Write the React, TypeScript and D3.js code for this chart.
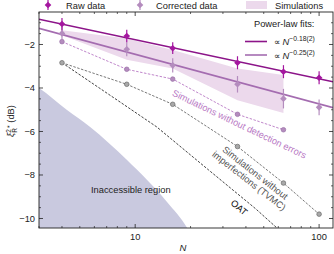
import React from "react";
import * as d3 from "d3";

const Ns = [4, 9, 16, 36, 64, 100];
const rawData = [-1.06, -1.61, -2.17, -2.84, -3.25, -3.53];
const rawErr = [0.28, 0.29, 0.27, 0.3, 0.3, 0.3];
const corrData = [-1.49, -2.22, -2.96, -3.83, -4.49, -4.89];
const corrErr = [0.3, 0.32, 0.33, 0.38, 0.45, 0.36];
const bandN = [4, 9, 16, 36, 64];
const bandUpper = [-1.35, -1.72, -2.25, -3.1, -3.4];
const bandLower = [-1.58, -2.7, -3.1, -4.56, -5.15];
const simNoDetN = [4, 9, 16, 36, 64];
const simNoDet = [-1.87, -3.14, -3.59, -5.21, -5.92];
const tvmcN = [4, 9, 16, 36, 64, 100];
const tvmc = [-2.84, -3.83, -4.75, -6.69, -8.37, -9.8];
const oatN = [4, 8, 13.1, 25, 45, 62];
const oat = [-2.84, -4.56, -5.79, -7.76, -9.54, -10.6];
const inaccN = [2.5, 3.0, 4.26, 5.69, 9, 14.9, 19.2, 20];
const inacc = [-3.6, -4.0, -5.01, -5.79, -7.3, -9.24, -10.44, -10.7];
const fitRaw = { c: 0.02, s: -1.8 };
const fitCorr = { c: -0.17, s: -2.28 };
const xMajor = [10, 100];
const xMinor = [3, 4, 5, 6, 7, 8, 9, 20, 30, 40, 50, 60, 70, 80, 90];
const yMajor = [-2, -4, -6, -8, -10];

const W = 334, H = 254;
const L = 39, R = 333, T = 12, B = 228;
const font = "Liberation Sans, Arial, sans-serif";

export default function App() {
  const x = d3.scaleLog().domain([3, 119]).range([L, R]);
  const y = d3.scaleLinear().domain([-10.437, -0.506]).range([B, T]);
  const yMinor = d3.range(-10, -0.5, 0.5).filter((v) => Math.abs(v % 2) > 0.01);

  const line = d3.line<[number, number]>().x((d) => x(d[0])).y((d) => y(d[1]));

  const band = d3
    .area<number>()
    .x((_, i) => x(bandN[i]))
    .y0((_, i) => y(bandLower[i]))
    .y1((_, i) => y(bandUpper[i]));

  const inaccArea = d3
    .area<number>()
    .x((_, i) => x(inaccN[i]))
    .y0(B + 20)
    .y1((d) => y(d))
    .curve(d3.curveMonotoneX);

  const fitPts = (f: { c: number; s: number }) =>
    [3, 119].map((n) => [n, f.c + f.s * Math.log10(n)] as [number, number]);

  const diamond = (cx: number, cy: number, r: number) =>
    `M${cx},${cy - r}L${cx + r},${cy}L${cx},${cy + r}L${cx - r},${cy}Z`;

  const rawCol = "#a4169f";
  const rawFit = "#8c1489";
  const corrCol = "#b48cbe";
  const corrStroke = "#9a70a6";
  const corrFit = "#a46cb0";
  const bandCol = "#ecd9ec";
  const simCol = "#b878c4";
  const greyFill = "#a8a8a8";
  const greyStroke = "#6a6a6a";

  return (
    <svg width={W} height={H} style={{ position: "absolute", left: 0, top: 0 }} fontFamily={font}>
      <defs>
        <clipPath id="plot">
          <rect x={L} y={T} width={R - L} height={B - T} />
        </clipPath>
      </defs>
      <g clipPath="url(#plot)">
        <path d={inaccArea(inacc) || ""} fill="#c9c9df" />
        <path d={band(bandUpper) || ""} fill={bandCol} />
        <path d={line(oatN.map((n, i) => [n, oat[i]])) || ""} fill="none" stroke="#111" strokeWidth={0.8} strokeDasharray="2.5,1.5" />
        <path d={line(tvmcN.map((n, i) => [n, tvmc[i]])) || ""} fill="none" stroke="#555" strokeWidth={0.8} strokeDasharray="2.5,1.5" />
        <path d={line(simNoDetN.map((n, i) => [n, simNoDet[i]])) || ""} fill="none" stroke={simCol} strokeWidth={0.9} strokeDasharray="2.5,1.5" />
        <path d={line(fitPts(fitRaw)) || ""} fill="none" stroke={rawFit} strokeWidth={1.6} />
        <path d={line(fitPts(fitCorr)) || ""} fill="none" stroke={corrFit} strokeWidth={1.6} />
        {tvmcN.map((n, i) => (
          <circle key={"t" + i} cx={x(n)} cy={y(tvmc[i])} r={2.3} fill={greyFill} stroke={greyStroke} strokeWidth={0.7} />
        ))}
        {simNoDetN.map((n, i) => (
          <circle key={"s" + i} cx={x(n)} cy={y(simNoDet[i])} r={2.3} fill={corrCol} stroke={corrStroke} strokeWidth={0.7} />
        ))}
        {Ns.map((n, i) => (
          <g key={"c" + i}>
            <line x1={x(n)} x2={x(n)} y1={y(corrData[i] - corrErr[i])} y2={y(corrData[i] + corrErr[i])} stroke={corrCol} strokeWidth={1.2} />
            <path d={diamond(x(n), y(corrData[i]), 3.3)} fill={corrCol} />
          </g>
        ))}
        {Ns.map((n, i) => (
          <g key={"r" + i}>
            <line x1={x(n)} x2={x(n)} y1={y(rawData[i] - rawErr[i])} y2={y(rawData[i] + rawErr[i])} stroke={rawCol} strokeWidth={1.2} />
            <path d={diamond(x(n), y(rawData[i]), 3.3)} fill={rawCol} />
          </g>
        ))}
      </g>

      {/* annotations */}
      <text x={91} y={193} fontSize={9.3} fill="#222">Inaccessible region</text>
      <text transform="translate(238,127) rotate(25.5)" textAnchor="middle" fontSize={9.3} fill={simCol}>
        Simulations without detection errors
      </text>
      <g transform="translate(252,177) rotate(38)" fontSize={9.3} fill="#555" textAnchor="middle">
        <text x={0} y={-2}>Simulations without</text>
        <text x={0} y={8}>imperfections (TVMC)</text>
      </g>
      <text transform="translate(237,210) rotate(40)" textAnchor="middle" fontSize={9.3} fill="#111">OAT</text>

      {/* frame */}
      <rect x={L} y={T} width={R - L} height={B - T} fill="none" stroke="#222" strokeWidth={0.9} />
      {xMajor.map((v) => (
        <g key={"xm" + v}>
          <line x1={x(v)} x2={x(v)} y1={B} y2={B - 4} stroke="#222" strokeWidth={0.8} />
          <line x1={x(v)} x2={x(v)} y1={T} y2={T + 4} stroke="#222" strokeWidth={0.8} />
          <text x={x(v)} y={B + 12} textAnchor="middle" fontSize={9.3} fill="#222">{v}</text>
        </g>
      ))}
      {xMinor.map((v) => (
        <g key={"xn" + v}>
          <line x1={x(v)} x2={x(v)} y1={B} y2={B - 2} stroke="#222" strokeWidth={0.7} />
          <line x1={x(v)} x2={x(v)} y1={T} y2={T + 2} stroke="#222" strokeWidth={0.7} />
        </g>
      ))}
      {yMajor.map((v) => (
        <g key={"ym" + v}>
          <line x1={L} x2={L + 4} y1={y(v)} y2={y(v)} stroke="#222" strokeWidth={0.8} />
          <line x1={R} x2={R - 4} y1={y(v)} y2={y(v)} stroke="#222" strokeWidth={0.8} />
          <text x={L - 4} y={y(v) + 3.3} textAnchor="end" fontSize={9.3} fill="#222">{"\u2212" + Math.abs(v)}</text>
        </g>
      ))}
      {yMinor.map((v) => (
        <g key={"yn" + v}>
          <line x1={L} x2={L + 2} y1={y(v)} y2={y(v)} stroke="#222" strokeWidth={0.7} />
          <line x1={R} x2={R - 2} y1={y(v)} y2={y(v)} stroke="#222" strokeWidth={0.7} />
        </g>
      ))}
      <text x={183} y={251} textAnchor="middle" fontSize={9.5} fontStyle="italic" fill="#222">N</text>
      <text transform="translate(14,121) rotate(-90)" textAnchor="middle" fontSize={9.3} fill="#222">
        <tspan fontStyle="italic">ξ</tspan>
        <tspan fontSize={6.5} dy={-3.5}>2</tspan>
        <tspan fontSize={6.5} dx={-3.6} dy={6}>R</tspan>
        <tspan fontSize={7} dy={-5}>*</tspan>
        <tspan dy={2.5}> (dB)</tspan>
      </text>

      {/* top legend */}
      <line x1={48} x2={48} y1={0} y2={10} stroke={rawCol} strokeWidth={1.2} />
      <path d={diamond(48, 5, 3.3)} fill={rawCol} />
      <text x={66} y={8.5} fontSize={9.3} fill="#222">Raw data</text>
      <line x1={140} x2={140} y1={0} y2={10} stroke={corrCol} strokeWidth={1.2} />
      <path d={diamond(140, 5, 3.3)} fill={corrCol} />
      <text x={156} y={8.5} fontSize={9.3} fill="#222">Corrected data</text>
      <rect x={246} y={1} width={21} height={8} fill={bandCol} />
      <text x={275} y={8.5} fontSize={9.3} fill="#222">Simulations</text>

      {/* fit legend */}
      <text x={254} y={27} fontSize={9.3} fill="#222">Power-law fits:</text>
      <line x1={245} x2={267} y1={41.5} y2={41.5} stroke={rawFit} strokeWidth={1.6} />
      <text x={274} y={45} fontSize={9.3} fill="#222">
        ∝ <tspan fontStyle="italic">N</tspan>
        <tspan fontSize={6.8} dy={-4}>{"\u22120.18(2)"}</tspan>
      </text>
      <line x1={245} x2={267} y1={55} y2={55} stroke={corrFit} strokeWidth={1.6} />
      <text x={274} y={58.5} fontSize={9.3} fill="#222">
        ∝ <tspan fontStyle="italic">N</tspan>
        <tspan fontSize={6.8} dy={-4}>{"\u22120.25(2)"}</tspan>
      </text>
    </svg>
  );
}
